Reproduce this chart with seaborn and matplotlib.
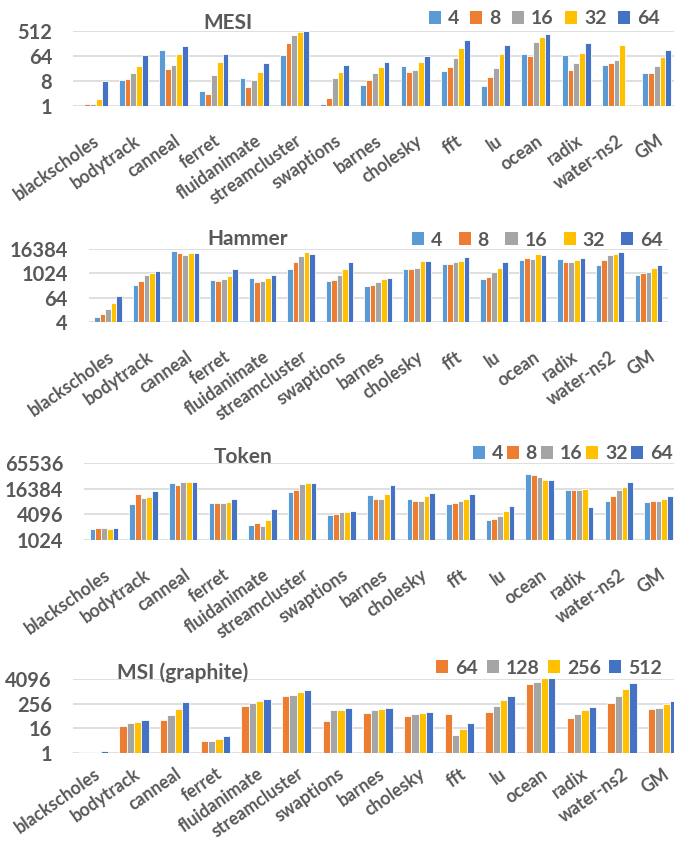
import numpy as np
import pandas as pd
import matplotlib
matplotlib.use("Agg")
import matplotlib.pyplot as plt
from matplotlib.patches import Patch
from matplotlib.ticker import NullLocator
import seaborn as sns

nan = np.nan

benchmarks = ["blackscholes", "bodytrack", "canneal", "ferret", "fluidanimate",
              "streamcluster", "swaptions", "barnes", "cholesky", "fft", "lu",
              "ocean", "radix", "water-ns2", "GM"]

core_counts = ["4", "8", "16", "32", "64"]
msi_core_counts = ["64", "128", "256", "512"]

# MESI
mesi_4 = [nan, 8.9, 108, 3.3, 9.7, 68, 1.15, 5.6, 27, 18.4, 5.1, 78, 70, 31, 16]
mesi_8 = [1.2, 9.2, 21, 2.6, 4.6, 194, 1.84, 8.5, 16.5, 25, 10.9, 66, 20.5, 36, 15]
mesi_16 = [1.2, 16, 29, 12.8, 8.9, 357, 10, 15, 20, 53, 23, 205, 36, 47, 27]
mesi_32 = [1.74, 27, 72, 39, 17, 458, 16.5, 25, 40, 128, 76, 302, 84, 164, 59]
mesi_64 = [8.2, 70, 143, 72, 35, 520, 29, 38, 64, 249, 155, 399, 184, nan, 108]

# Hammer
hammer_4 = [6.8, 271, 13560, 481, 608, 1708, 430, 233, 1708, 3040, 520, 5000, 5150, 2700, 857]
hammer_8 = [9.3, 446, 10760, 413, 370, 3820, 481, 271, 1708, 3040, 708, 5840, 3690, 4800, 1040]
hammer_16 = [16.5, 890, 8880, 541, 446, 7330, 826, 370, 1845, 3820, 1210, 5150, 3980, 8200, 1260]
hammer_32 = [34, 1120, 10370, 735, 608, 12080, 1708, 541, 4290, 4400, 1990, 9960, 4800, 9960, 1845]
hammer_64 = [74, 1360, 10760, 1708, 890, 9600, 3690, 608, 4400, 6800, 3980, 8880, 6300, 11600, 2700]

# Token
token_4 = [1830, 7140, 22000, 7400, 2310, 13950, 4000, 11650, 9550, 7140, 2930, 36600, 15300, 8250, 7800]
token_8 = [1900, 12300, 20100, 7400, 2540, 15600, 4150, 9360, 8250, 7680, 3150, 35200, 15600, 11050, 8250]
token_16 = [1900, 9900, 23600, 7400, 2150, 21200, 4530, 9200, 8250, 8400, 3770, 31000, 15600, 15000, 8550]
token_32 = [1830, 10250, 23200, 7800, 2980, 22400, 4600, 12000, 11050, 9200, 4960, 26800, 16100, 17700, 9360]
token_64 = [1940, 14470, 24000, 9550, 5430, 22000, 4960, 20400, 13200, 12000, 6500, 26200, 5940, 24000, 10800]

# MSI (graphite)
msi_64 = [1.08, 21, 40, 3.7, 194, 577, 34, 88, 63, 76, 98, 2240, 52, 272, 138]
msi_128 = [1.08, 28.5, 73, 3.7, 262, 671, 119, 124, 79, 7.6, 201, 2910, 76, 623, 155]
msi_256 = [1.12, 33, 138, 4.9, 329, 909, 124, 138, 88, 15, 368, 4600, 128, 1320, 252]
msi_512 = [1.2, 40, 305, 6.6, 412, 1227, 149, 155, 102, 28.5, 623, 5400, 167, 2700, 355]

mesi_ticks = [1, 8, 64, 512]
hammer_ticks = [4, 64, 1024, 16384]
token_ticks = [1024, 4096, 16384, 65536]
msi_ticks = [1, 16, 256, 4096]

BLUE_L, ORANGE, GRAY, GOLD, BLUE_D = "#5B9BD5", "#ED7D31", "#A5A5A5", "#FFC000", "#4472C4"
TEXT = "#595959"
GRID = "#D9D9D9"

sns.set_theme(style="white")
plt.rcParams["font.family"] = ["Lato", "DejaVu Sans"]
plt.rcParams["font.weight"] = "bold"


def long_table(series, levels):
    frames = []
    for lvl, vals in zip(levels, series):
        frames.append(pd.DataFrame({"benchmark": benchmarks, "cores": lvl, "value": vals}))
    return pd.concat(frames, ignore_index=True)


panels = [
    dict(title="MESI", levels=core_counts,
         series=[mesi_4, mesi_8, mesi_16, mesi_32, mesi_64],
         colors=[BLUE_L, ORANGE, GRAY, GOLD, BLUE_D], ticks=mesi_ticks,
         box=(72.9, 105.7, 604, 74.7), title_xy=(228, 23),
         legend_xy=(660, 19), colspace=0.6, xpad=19),
    dict(title="Hammer", levels=core_counts,
         series=[hammer_4, hammer_8, hammer_16, hammer_32, hammer_64],
         colors=[BLUE_L, ORANGE, GRAY, GOLD, BLUE_D], ticks=hammer_ticks,
         box=(88.7, 321.7, 579, 72.4), title_xy=(248, 239),
         legend_xy=(663, 240), colspace=0.85, xpad=19),
    dict(title="Token", levels=core_counts,
         series=[token_4, token_8, token_16, token_32, token_64],
         colors=[BLUE_L, ORANGE, GRAY, GOLD, BLUE_D], ticks=token_ticks,
         box=(84.2, 539.7, 594, 76.4), title_xy=(243, 457),
         legend_xy=(673, 454), colspace=0.2, xpad=19),
    dict(title="MSI (graphite)", levels=msi_core_counts,
         series=[msi_64, msi_128, msi_256, msi_512],
         colors=[ORANGE, GRAY, GOLD, BLUE_D], ticks=msi_ticks,
         box=(72.9, 752.7, 610, 73.7), title_xy=(183, 673),
         legend_xy=(662, 668), colspace=0.45, xpad=9),
]

W, H = 674, 844
fig = plt.figure(figsize=(W / 100, H / 100), dpi=100)

for p in panels:
    left, bottom, width, height = p["box"]
    ax = fig.add_axes([left / W, 1 - bottom / H, width / W, height / H])
    df = long_table(p["series"], p["levels"])
    sns.barplot(data=df, x="benchmark", y="value", hue="cores",
                order=benchmarks, hue_order=p["levels"], palette=p["colors"],
                width=0.72, saturation=1, errorbar=None, legend=False,
                edgecolor="white", linewidth=0.6, ax=ax)
    ax.set_yscale("log", base=2)
    ax.set_ylim(p["ticks"][0], p["ticks"][-1])
    ax.set_xlim(-0.5, len(benchmarks) - 0.5)
    ax.set_yticks(p["ticks"], labels=[str(t) for t in p["ticks"]])
    ax.yaxis.set_minor_locator(NullLocator())
    ax.set_axisbelow(True)
    ax.yaxis.grid(True, color=GRID, linewidth=1.2)
    ax.xaxis.grid(False)
    for s in ax.spines.values():
        s.set_visible(False)
    ax.set_xlabel("")
    ax.set_ylabel("")
    ax.tick_params(axis="y", length=0, pad=15, labelsize=14.5, labelcolor=TEXT)
    ax.tick_params(axis="x", length=0, pad=p["xpad"], labelsize=12.7, labelcolor=TEXT)
    for lab in ax.get_yticklabels():
        lab.set_fontweight("bold")
    ax.set_xticks(range(len(benchmarks)))
    ax.set_xticklabels(benchmarks, rotation=35, ha="right", va="top",
                       rotation_mode="anchor", fontweight="bold")

    tx, ty = p["title_xy"]
    fig.text(tx / W, 1 - ty / H, p["title"], ha="center", va="center",
             fontsize=15, fontweight="bold", color=TEXT)

    handles = [Patch(facecolor=c, edgecolor="none") for c in p["colors"]]
    lx, ly = p["legend_xy"]
    fig.legend(handles, p["levels"], loc="center right",
               bbox_to_anchor=(lx / W, 1 - ly / H), bbox_transform=fig.transFigure,
               ncol=len(p["levels"]), frameon=False,
               handlelength=0.62, handleheight=0.62, handletextpad=0.35,
               columnspacing=p["colspace"], borderpad=0, borderaxespad=0,
               labelcolor=TEXT, prop={"weight": "bold", "size": 14})

fig.savefig("out.png", dpi=100)
